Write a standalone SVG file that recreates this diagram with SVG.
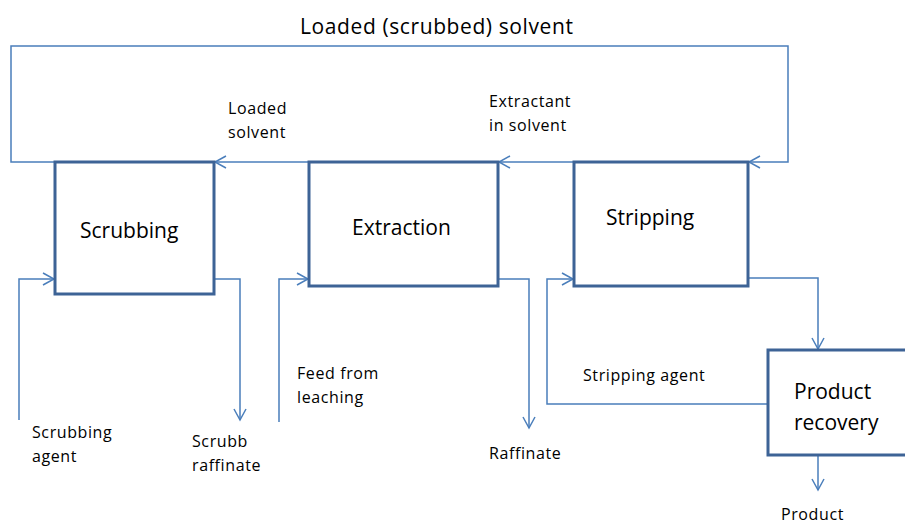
<svg xmlns="http://www.w3.org/2000/svg" width="905" height="521" viewBox="0 0 905 521">
<style>
.box{fill:#fff;stroke:#3d6396;stroke-width:3}
.c{fill:none;stroke:#4a7ebb;stroke-width:1.5}
.big{font-family:"Open Sans","Liberation Sans",sans-serif;font-size:21px;fill:#000}
.ttl{font-family:"Open Sans","Liberation Sans",sans-serif;font-size:21px;letter-spacing:0.6px;fill:#000}
.sm{font-family:"Open Sans","Liberation Sans",sans-serif;font-size:16px;letter-spacing:0.6px;fill:#000}
</style>
<defs>
<marker id="a" markerWidth="14" markerHeight="14" refX="12" refY="7" orient="auto" markerUnits="userSpaceOnUse">
<path d="M1,1 L12,7 L1,13" fill="none" stroke="#4a7ebb" stroke-width="1.5"/>
</marker>
</defs>
<rect width="905" height="521" fill="#fff"/>
<g id="connectors">
<polyline class="c" points="55,162 11,162 11,46 788,46 788,162 749,162" marker-end="url(#a)"/>
<line class="c" x1="309" y1="162" x2="215" y2="162" marker-end="url(#a)"/>
<line class="c" x1="574" y1="162" x2="499" y2="162" marker-end="url(#a)"/>
<polyline class="c" points="19,420 19,279 54,279" marker-end="url(#a)"/>
<polyline class="c" points="215,279 240,279 240,420" marker-end="url(#a)"/>
<polyline class="c" points="279,422 279,279 308,279" marker-end="url(#a)"/>
<polyline class="c" points="499,279 529,279 529,428" marker-end="url(#a)"/>
<polyline class="c" points="749,278 818,278 818,349" marker-end="url(#a)"/>
<polyline class="c" points="768,404 547,404 547,279 573,279" marker-end="url(#a)"/>
<line class="c" x1="818" y1="456" x2="818" y2="490" marker-end="url(#a)"/>
</g>
<g id="scrubbing">
<rect class="box" x="55" y="162" width="159" height="132"/>
<text class="big" x="80" y="238">Scrubbing</text>
</g>
<g id="extraction">
<rect class="box" x="309" y="162" width="189" height="124"/>
<text class="big" x="352" y="235">Extraction</text>
</g>
<g id="stripping">
<rect class="box" x="574" y="162" width="174" height="124"/>
<text class="big" x="606" y="225">Stripping</text>
</g>
<g id="product-recovery">
<rect class="box" x="768" y="350" width="150" height="105"/>
<text class="big" x="794" y="399">Product</text>
<text class="big" x="794" y="430">recovery</text>
</g>
<g id="labels">
<text class="ttl" x="300" y="34">Loaded (scrubbed) solvent</text>
<text class="sm" x="228" y="114">Loaded</text>
<text class="sm" x="228" y="138">solvent</text>
<text class="sm" x="489" y="107">Extractant</text>
<text class="sm" x="489" y="131">in solvent</text>
<text class="sm" x="32" y="438">Scrubbing</text>
<text class="sm" x="32" y="462">agent</text>
<text class="sm" x="192" y="447">Scrubb</text>
<text class="sm" x="192" y="471">raffinate</text>
<text class="sm" x="297" y="379">Feed from</text>
<text class="sm" x="297" y="403">leaching</text>
<text class="sm" x="489" y="459">Raffinate</text>
<text class="sm" x="583" y="381">Stripping agent</text>
<text class="sm" x="781" y="520">Product</text>
</g>
</svg>
